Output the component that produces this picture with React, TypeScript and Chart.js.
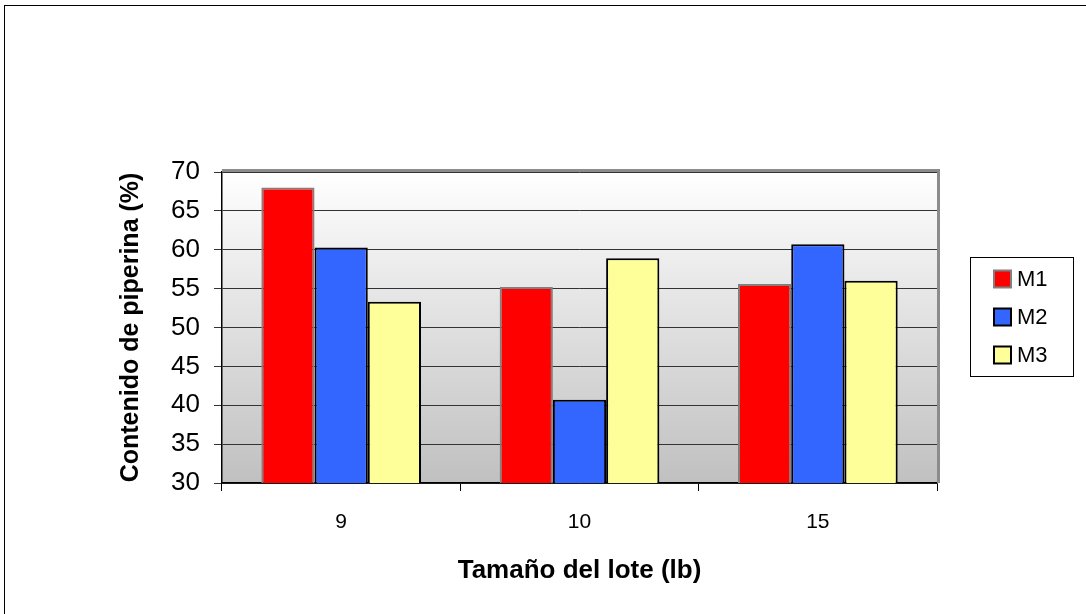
import React, { useEffect, useRef } from "react";
import { Chart, registerables } from "chart.js";

Chart.register(...registerables);

// Batch sizes (lb) on the category axis
const categories = ["9", "10", "15"];
// Piperine content (%) per method
const seriesNames = ["M1", "M2", "M3"];
const m1Values = [68.0, 55.2, 55.6];
const m2Values = [60.3, 40.7, 60.7];
const m3Values = [53.3, 58.9, 56.0];
const yMin = 30;
const yMax = 70;
const yStep = 5;

const fillColors = ["#FF0000", "#3366FF", "#FFFF99"];
const edgeColors = ["#808080", "#000000", "#000000"];

const FONT = "'Liberation Sans', Arial, sans-serif";

// Plot frame in canvas pixels
const AREA = { left: 222, right: 937, top: 172, bottom: 483 };
const W = 1086;
const H = 614;

const plotBackground = {
  id: "plotBackground",
  beforeDraw(chart: any) {
    const { ctx, chartArea } = chart;
    if (!chartArea) return;
    const g = ctx.createLinearGradient(0, chartArea.top, 0, chartArea.bottom);
    g.addColorStop(0, "#FFFFFF");
    g.addColorStop(1, "#C0C0C0");
    ctx.save();
    ctx.fillStyle = g;
    ctx.fillRect(
      chartArea.left,
      chartArea.top,
      chartArea.right - chartArea.left,
      chartArea.bottom - chartArea.top
    );
    ctx.restore();
  },
  afterDraw(chart: any) {
    const { ctx, chartArea } = chart;
    if (!chartArea) return;
    ctx.save();
    // grey frame on the top and right of the plot
    ctx.strokeStyle = "#8C8C8C";
    ctx.lineWidth = 3;
    ctx.beginPath();
    ctx.moveTo(chartArea.left, chartArea.top - 1.5);
    ctx.lineTo(chartArea.right + 1.5, chartArea.top - 1.5);
    ctx.lineTo(chartArea.right + 1.5, chartArea.bottom);
    ctx.stroke();
    ctx.restore();
  },
};

const boxLegend = {
  id: "boxLegend",
  afterDraw(chart: any) {
    const { ctx } = chart;
    const bx = 970;
    const by = 257;
    const bw = 103;
    const bh = 119;
    ctx.save();
    ctx.strokeStyle = "#000";
    ctx.lineWidth = 1;
    ctx.strokeRect(bx + 0.5, by + 0.5, bw, bh);
    ctx.font = `22px ${FONT}`;
    ctx.textBaseline = "middle";
    ctx.textAlign = "left";
    chart.data.datasets.forEach((ds: any, i: number) => {
      const cy = by + 22 + i * 38;
      const sx = 994;
      const size = 17;
      ctx.fillStyle = ds.backgroundColor;
      ctx.fillRect(sx, cy - size / 2, size, size);
      ctx.strokeStyle = ds.borderColor;
      ctx.lineWidth = 2;
      ctx.strokeRect(sx, cy - size / 2, size, size);
      ctx.fillStyle = "#000";
      ctx.fillText(ds.label, 1017, cy + 1);
    });
    ctx.restore();
  },
};

export default function App() {
  const canvasRef = useRef<HTMLCanvasElement | null>(null);

  useEffect(() => {
    if (!canvasRef.current) return;
    const values = [m1Values, m2Values, m3Values];
    const chart = new Chart(canvasRef.current, {
      type: "bar",
      data: {
        labels: categories,
        datasets: seriesNames.map((name, i) => ({
          label: name,
          data: values[i],
          backgroundColor: fillColors[i],
          borderColor: edgeColors[i],
          borderWidth: 2,
          borderSkipped: "start",
          categoryPercentage: 0.67,
          barPercentage: 1,
        })),
      },
      options: {
        animation: false,
        responsive: false,
        maintainAspectRatio: false,
        devicePixelRatio: 1,
        layout: {
          padding: { left: 0, top: AREA.top, right: W - AREA.right, bottom: 0 },
        },
        plugins: {
          legend: { display: false },
          title: { display: false },
          tooltip: { enabled: false },
        },
        scales: {
          x: {
            offset: true,
            afterFit(scale: any) {
              scale.height = H - AREA.bottom;
            },
            grid: {
              offset: true,
              drawOnChartArea: false,
              drawTicks: true,
              tickLength: 8,
              color: "#000",
              lineWidth: 1,
            },
            border: { display: true, color: "#000", width: 1.5 },
            ticks: {
              color: "#000",
              padding: 19,
              font: { family: FONT, size: 21 },
            },
            title: {
              display: true,
              text: "Tamaño del lote (lb)",
              color: "#000",
              font: { family: FONT, size: 26, weight: "bold" },
              padding: { top: 0, bottom: 28 },
            },
          },
          y: {
            min: yMin,
            max: yMax,
            afterFit(scale: any) {
              scale.width = AREA.left;
            },
            grid: {
              color: "#333",
              lineWidth: 1,
              drawTicks: true,
              tickLength: 8,
            },
            border: { display: true, color: "#000", width: 1.5 },
            ticks: {
              stepSize: yStep,
              color: "#000",
              padding: 14,
              font: { family: FONT, size: 26 },
            },
            title: {
              display: true,
              text: "Contenido de piperina (%)",
              color: "#000",
              font: { family: FONT, size: 25, weight: "bold" },
              padding: { top: 116, bottom: 0 },
            },
          },
        },
      },
      plugins: [plotBackground, boxLegend],
    });
    return () => chart.destroy();
  }, []);

  return (
    <div
      style={{
        position: "fixed",
        left: 0,
        top: 0,
        width: W,
        height: H,
        background: "#fff",
        overflow: "hidden",
      }}
    >
      <div
        style={{
          position: "absolute",
          left: 4,
          top: 5,
          width: W + 20,
          height: H + 20,
          borderTop: "1px solid #000",
          borderLeft: "1px solid #000",
          boxSizing: "border-box",
        }}
      />
      <canvas
        ref={canvasRef}
        width={W}
        height={H}
        style={{ position: "absolute", left: 0, top: 0, width: W, height: H }}
      />
    </div>
  );
}
